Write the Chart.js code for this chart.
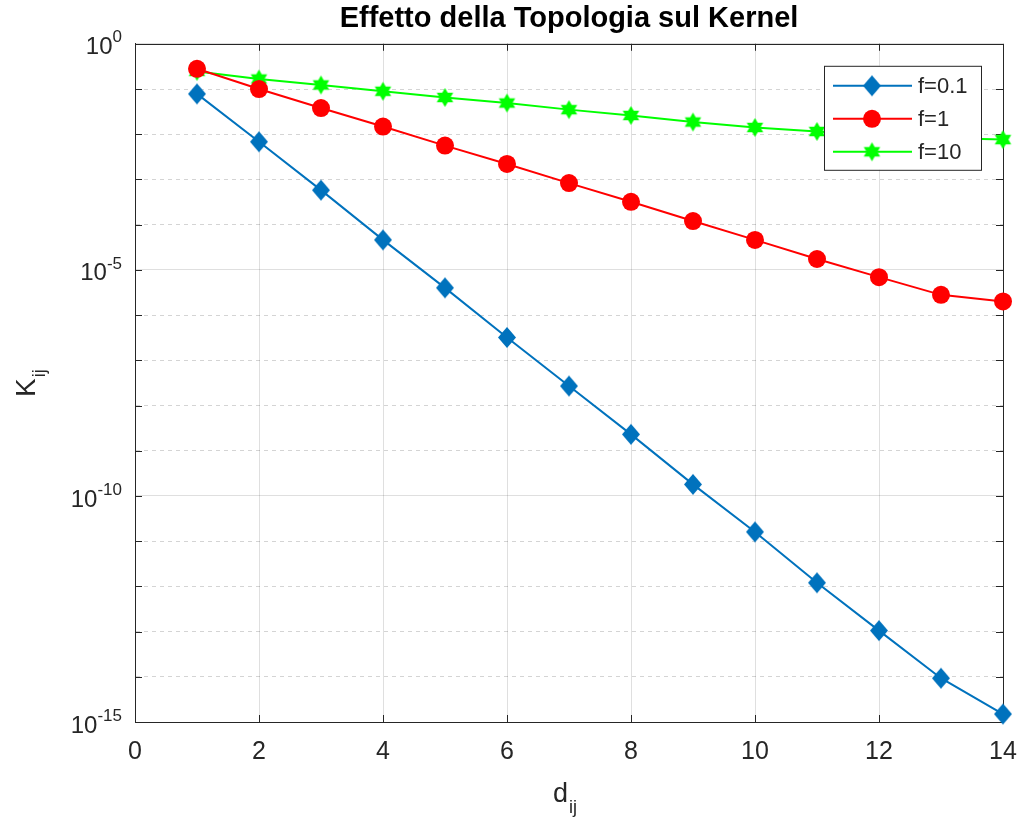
<!DOCTYPE html>
<html>
<head>
<meta charset="utf-8">
<script src="https://cdn.jsdelivr.net/npm/chart.js@4/dist/chart.umd.min.js"></script>
<style>
  html, body { margin: 0; padding: 0; background: #fff; }
  #wrap { width: 1021px; height: 825px; }
</style>
</head>
<body>
<div id="wrap"><canvas id="kernelChart" width="1021" height="825"></canvas></div>
<script>
// distances d_ij
const dij = [1, 2, 3, 4, 5, 6, 7, 8, 9, 10, 11, 12, 13, 14];

// K_ij values
const kF01 = [7.8e-2, 6.8e-3, 5.8e-4, 4.6e-5, 4.0e-6, 3.2e-7, 2.7e-8, 2.3e-9, 1.8e-10, 1.6e-11, 1.2e-12, 1.05e-13, 9.3e-15, 1.5e-15];
const kF1 = [0.28, 0.10, 0.038, 0.0148, 5.6e-3, 2.2e-3, 8.3e-4, 3.2e-4, 1.2e-4, 4.6e-5, 1.74e-5, 6.9e-6, 2.8e-6, 2.0e-6];
const kF10 = [0.245, 0.166, 0.123, 0.089, 0.065, 0.049, 0.035, 0.026, 0.0186, 0.0141, 0.0115, 0.0095, 0.0083, 0.0076];

const seriesLabels = ['f=0.1', 'f=1', 'f=10'];
const seriesColors = ['#0072BD', '#FF0000', '#00FF00'];

// axis ticks
const xTicks = [0, 2, 4, 6, 8, 10, 12, 14];
const yDecades = [0, -1, -2, -3, -4, -5, -6, -7, -8, -9, -10, -11, -12, -13, -14, -15];
const yLabelDecades = [0, -5, -10, -15];

const TEXT = '#262626';
const FONT = "'Liberation Sans', Arial, Helvetica, sans-serif";

// marker images
function makeDiamond(color, hw, hh) {
    const c = document.createElement('canvas');
    c.width = Math.ceil(hw * 2 + 2);
    c.height = Math.ceil(hh * 2 + 2);
    const g = c.getContext('2d');
    const cx = c.width / 2, cy = c.height / 2;
    g.beginPath();
    g.moveTo(cx, cy - hh);
    g.lineTo(cx + hw, cy);
    g.lineTo(cx, cy + hh);
    g.lineTo(cx - hw, cy);
    g.closePath();
    g.fillStyle = color;
    g.fill();
    return c;
}

function makeHexagram(color, R) {
    const size = Math.ceil(R * 2 + 2);
    const c = document.createElement('canvas');
    c.width = size; c.height = size;
    const g = c.getContext('2d');
    const cx = size / 2, cy = size / 2, r = R / Math.sqrt(3);
    g.beginPath();
    for (let i = 0; i < 12; i++) {
        const a = -Math.PI / 2 + i * Math.PI / 6;
        const rad = i % 2 === 0 ? R : r;
        g.lineTo(cx + rad * Math.cos(a), cy + rad * Math.sin(a));
    }
    g.closePath();
    g.fillStyle = color;
    g.fill();
    return c;
}

const diamondImg = makeDiamond(seriesColors[0], 9, 10.5);
const hexImg = makeHexagram(seriesColors[2], 9.5);

function toPoints(vals) {
    return dij.map((d, i) => ({ x: d, y: vals[i] }));
}

function isMajorDecade(v) {
    const k = Math.round(Math.log10(v));
    return k % 5 === 0;
}

// box, inward ticks
const boxPlugin = {
    id: 'boxPlugin',
    beforeDatasetsDraw(chart) {
        const { ctx, chartArea: a, scales: { x, y } } = chart;
        ctx.save();
        ctx.strokeStyle = TEXT;
        ctx.lineWidth = 1;
        ctx.beginPath();
        xTicks.forEach(v => {
            const px = Math.round(x.getPixelForValue(v)) + 0.5;
            ctx.moveTo(px, a.bottom); ctx.lineTo(px, a.bottom - 7);
            ctx.moveTo(px, a.top); ctx.lineTo(px, a.top + 7);
        });
        yDecades.forEach(k => {
            const py = Math.round(y.getPixelForValue(parseFloat('1e' + k))) + 0.5;
            ctx.moveTo(a.left, py); ctx.lineTo(a.left + 7, py);
            ctx.moveTo(a.right, py); ctx.lineTo(a.right - 7, py);
        });
        ctx.stroke();
        ctx.strokeRect(Math.round(a.left) + 0.5, Math.round(a.top) + 0.5,
            Math.round(a.right - a.left), Math.round(a.bottom - a.top));
        ctx.restore();
    }
};

// legend box inside the axes, drawn over the data like MATLAB
const legendPlugin = {
    id: 'insideLegend',
    afterDatasetsDraw(chart) {
        const { ctx, chartArea: a } = chart;
        const bx = a.right - 179, by = a.top + 22, bw = 157, bh = 104;
        ctx.save();
        ctx.fillStyle = '#fff';
        ctx.fillRect(bx, by, bw, bh);
        ctx.strokeStyle = TEXT;
        ctx.lineWidth = 1;
        ctx.strokeRect(bx + 0.5, by + 0.5, bw, bh);
        ctx.font = '22px ' + FONT;
        ctx.textBaseline = 'middle';
        ctx.textAlign = 'left';
        seriesLabels.forEach((lab, i) => {
            const ey = by + 20 + i * 33;
            ctx.strokeStyle = seriesColors[i];
            ctx.lineWidth = 2;
            ctx.beginPath();
            ctx.moveTo(bx + 9, ey); ctx.lineTo(bx + 88, ey);
            ctx.stroke();
            const mx = bx + 48;
            if (i === 0) ctx.drawImage(diamondImg, mx - diamondImg.width / 2, ey - diamondImg.height / 2);
            if (i === 1) {
                ctx.fillStyle = seriesColors[1];
                ctx.beginPath(); ctx.arc(mx, ey, 9, 0, Math.PI * 2); ctx.fill();
            }
            if (i === 2) ctx.drawImage(hexImg, mx - hexImg.width / 2, ey - hexImg.height / 2);
            ctx.fillStyle = TEXT;
            ctx.fillText(lab, bx + 94, ey + 1);
        });
        ctx.restore();
    }
};

// y tick labels as 10^k and axis titles with subscripts
const labelPlugin = {
    id: 'labelPlugin',
    afterDraw(chart) {
        const { ctx, scales: { x, y } } = chart;
        ctx.save();
        ctx.fillStyle = TEXT;
        ctx.textBaseline = 'middle';
        ctx.textAlign = 'right';
        yLabelDecades.forEach(k => {
            const py = y.getPixelForValue(parseFloat('1e' + k));
            const exp = k === 0 ? '0' : '-' + Math.abs(k);
            const right = x.left - 13;
            ctx.font = '17px ' + FONT;
            const ew = ctx.measureText(exp).width;
            ctx.fillText(exp, right, py - 6);
            ctx.font = '24px ' + FONT;
            ctx.fillText('10', right - ew, py + 4);
        });

        // y axis title K_ij
        ctx.textAlign = 'left';
        ctx.textBaseline = 'alphabetic';
        ctx.save();
        ctx.translate(35, 397);
        ctx.rotate(-Math.PI / 2);
        ctx.font = '28px ' + FONT;
        ctx.fillText('K', 0, 0);
        const kw = ctx.measureText('K').width;
        ctx.font = '18px ' + FONT;
        ctx.fillText('ij', kw + 1, 10);
        ctx.restore();

        // x axis title d_ij
        ctx.font = '27px ' + FONT;
        const dw = ctx.measureText('d').width;
        const xc = (x.left + x.right) / 2;
        ctx.fillText('d', xc - 16, 802);
        ctx.font = '18px ' + FONT;
        ctx.fillText('ij', xc - 16 + dw + 1, 813);
        ctx.restore();
    }
};

const ctx = document.getElementById('kernelChart').getContext('2d');
const kernelChart = new Chart(ctx, {
    type: 'line',
    data: {
        datasets: [
            {
                label: seriesLabels[0],
                data: toPoints(kF01),
                borderColor: seriesColors[0],
                backgroundColor: seriesColors[0],
                borderWidth: 2,
                pointStyle: diamondImg,
                tension: 0,
                clip: false
            },
            {
                label: seriesLabels[1],
                data: toPoints(kF1),
                borderColor: seriesColors[1],
                backgroundColor: seriesColors[1],
                borderWidth: 2,
                pointStyle: 'circle',
                pointRadius: 9,
                pointBorderWidth: 0,
                tension: 0,
                clip: false
            },
            {
                label: seriesLabels[2],
                data: toPoints(kF10),
                borderColor: seriesColors[2],
                backgroundColor: seriesColors[2],
                borderWidth: 2,
                pointStyle: hexImg,
                tension: 0,
                clip: false
            }
        ]
    },
    options: {
        responsive: false,
        animation: false,
        events: [],
        layout: {
            padding: { left: 135, right: 18, top: 0, bottom: 43 }
        },
        scales: {
            x: {
                type: 'linear',
                min: 0,
                max: 14,
                afterBuildTicks: (scale) => {
                    scale.ticks = xTicks.map(v => ({ value: v }));
                },
                afterFit: (scale) => {
                    scale.paddingLeft = 0;
                    scale.paddingRight = 0;
                },
                ticks: {
                    color: TEXT,
                    padding: 15,
                    font: { family: FONT, size: 25 }
                },
                grid: {
                    drawTicks: false,
                    color: 'rgba(38,38,38,0.15)',
                    lineWidth: 1
                },
                border: { color: TEXT, width: 1 }
            },
            y: {
                type: 'logarithmic',
                min: 1e-15,
                max: 1,
                afterBuildTicks: (scale) => {
                    scale.ticks = yDecades.map(k => ({ value: parseFloat('1e' + k) }));
                },
                ticks: { display: false },
                grid: {
                    drawTicks: false,
                    color: (c) => (c.tick && isMajorDecade(c.tick.value)) ? 'rgba(38,38,38,0.15)' : 'rgba(38,38,38,0.2)',
                    lineWidth: 1
                },
                border: {
                    color: TEXT,
                    width: 1,
                    dash: (c) => (c.tick && !isMajorDecade(c.tick.value)) ? [4, 4] : []
                }
            }
        },
        plugins: {
            legend: { display: false },
            tooltip: { enabled: false },
            title: {
                display: true,
                text: 'Effetto della Topologia sul Kernel',
                color: '#000',
                font: { family: FONT, size: 29, weight: 'bold' },
                padding: { top: 2, bottom: 7 }
            }
        }
    },
    plugins: [boxPlugin, legendPlugin, labelPlugin]
});
</script>
</body>
</html>
